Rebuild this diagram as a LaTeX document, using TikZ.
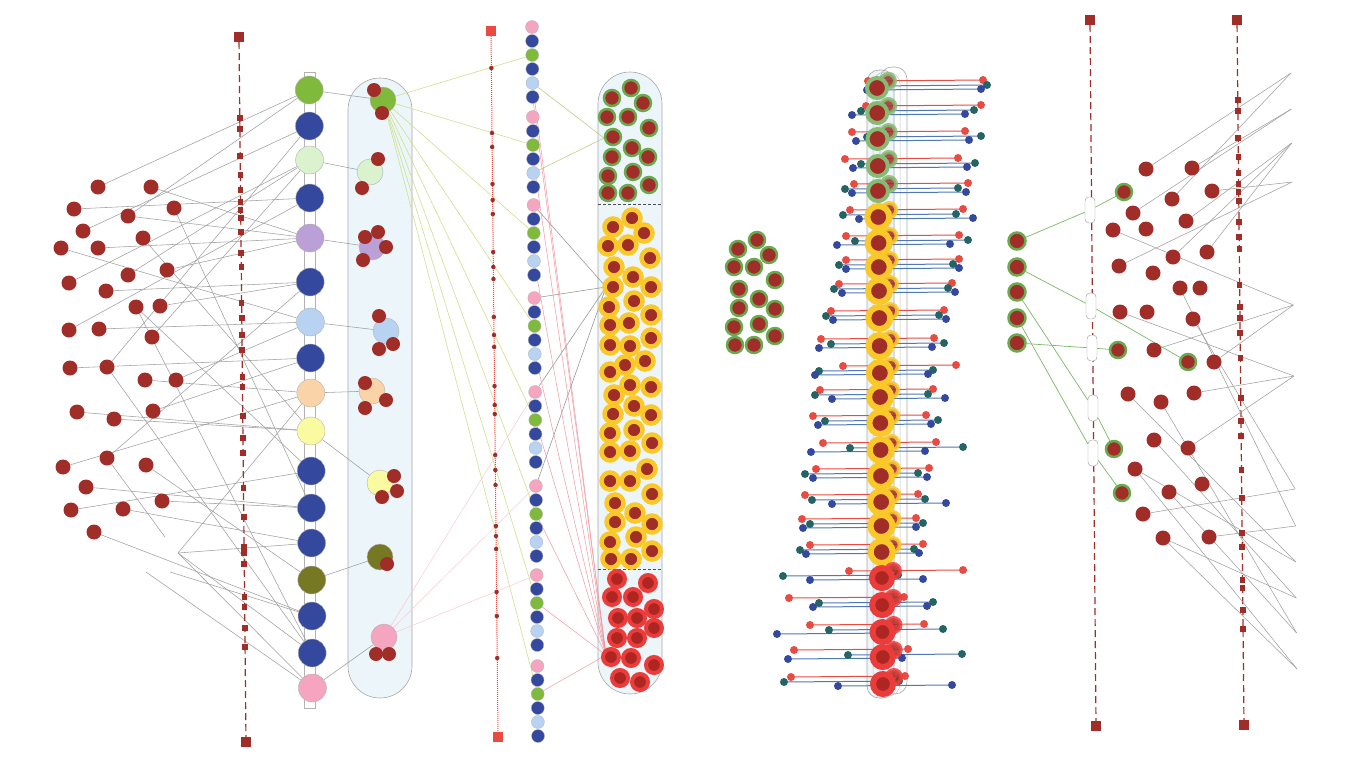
\documentclass[tikz,border=0pt]{standalone}
\usepackage{tikz}
\usepackage{xcolor}
\usetikzlibrary{backgrounds}
\definecolor{dred}{RGB}{160, 45, 40}
\definecolor{bred}{RGB}{232, 75, 65}
\definecolor{cblue}{RGB}{52, 72, 158}
\definecolor{cgreen}{RGB}{128, 186, 60}
\definecolor{lgreen}{RGB}{218, 242, 205}
\definecolor{lav}{RGB}{186, 160, 214}
\definecolor{lblue}{RGB}{184, 210, 242}
\definecolor{peach}{RGB}{250, 212, 168}
\definecolor{lyel}{RGB}{250, 250, 160}
\definecolor{colive}{RGB}{118, 120, 36}
\definecolor{cpink}{RGB}{245, 165, 192}
\definecolor{capfill}{RGB}{236, 245, 250}
\definecolor{gring}{RGB}{105, 170, 80}
\definecolor{yring}{RGB}{250, 200, 40}
\definecolor{rring}{RGB}{235, 60, 60}
\definecolor{cteal}{RGB}{36, 100, 100}
\definecolor{rowline}{RGB}{80, 120, 180}
\definecolor{ygreen}{RGB}{205, 225, 140}
\definecolor{lpink}{RGB}{240, 150, 160}
\definecolor{glink}{RGB}{120, 185, 100}

\tikzset{
  dot/.style={circle, inner sep=0pt, minimum size=15pt, fill=dred},
  bead/.style={circle, inner sep=0pt, minimum size=28pt, draw=gray!60, line width=0.4pt, fill=#1},
  cbead/.style={circle, inner sep=0pt, minimum size=26pt, draw=gray!60, line width=0.4pt, fill=#1},
  sbead/.style={circle, inner sep=0pt, minimum size=13pt, draw=gray!60, line width=0.3pt, fill=#1},
  sdot/.style={circle, inner sep=0pt, minimum size=14pt, fill=dred},
  gdot/.style={circle, inner sep=0pt, minimum size=16pt, fill=dred, draw=gring, line width=2.5pt},
  ydot/.style={circle, inner sep=0pt, minimum size=17pt, fill=dred, draw=yring, line width=4.5pt},
  rdot/.style={circle, inner sep=0pt, minimum size=16pt, fill=dred!85!red, draw=rring, line width=4pt},
  gbig/.style={circle, inner sep=0pt, minimum size=20pt, fill=dred, draw=gring!80, line width=4pt},
  ybig/.style={circle, inner sep=0pt, minimum size=22pt, fill=dred, draw=yring, line width=6pt},
  rbig/.style={circle, inner sep=0pt, minimum size=20pt, fill=dred!85!red, draw=rring, line width=6pt},
  tick/.style={rectangle, inner sep=0pt, minimum size=5.5pt, fill=dred},
  endsq/.style={rectangle, inner sep=0pt, minimum size=10pt, fill=dred},
  redsq/.style={rectangle, inner sep=0pt, minimum size=10pt, fill=bred},
  pdot/.style={circle, inner sep=0pt, minimum size=4.5pt, fill=dred},
  pill/.style={rectangle, rounded corners=4pt, draw=gray!80, fill=white, minimum width=10pt, minimum height=26pt, inner sep=0pt},
  enddot/.style={circle, inner sep=0pt, minimum size=8pt, fill=#1},
  link/.style={gray!75, line width=0.55pt},
}

\begin{document}
\begin{tikzpicture}[x=1pt, y=-1pt]
\useasboundingbox (0,0) rectangle (1357,761);

% first panel: loose dots, chain and capsule
\foreach \x/\y [count=\i] in {98/187, 151/187, 74/209, 174/208, 128/216, 83/231, 143/238, 61/248, 98/248,
  128/275, 167/270, 69/283, 106/291, 136/307, 160/306, 69/330, 99/329, 152/337, 70/368, 107/367,
  145/380, 176/380, 77/412, 114/419, 153/411, 63/467, 107/458, 146/465, 86/487, 71/510, 123/509,
  162/501, 94/532}
  \node[dot] (l\i) at (\x,\y) {};

\foreach \y/\c [count=\i] in {90/cgreen, 126/cblue, 160/lgreen, 198/cblue, 238/lav, 282/cblue,
  322/lblue, 358/cblue, 393/peach, 431/lyel, 471/cblue, 508/cblue, 543/cblue, 580/colive,
  616/cblue, 653/cblue, 688/cpink}
  \node[bead=\c] (c\i) at ({309+0.2*\i},\y) {};

\foreach \x/\y/\c [count=\i] in {383/100/cgreen, 370/172/lgreen, 372/247/lav, 386/331/lblue,
  372/391/peach, 380/483/lyel, 380/557/colive, 384/637/cpink}
  \node[cbead=\c] (q\i) at (\x,\y) {};

\foreach \x/\y [count=\i] in {374/90, 382/113, 378/159, 362/188, 365/237, 378/232, 386/247, 363/260,
  379/316, 379/349, 393/344, 365/383, 386/400, 365/408, 394/476, 397/491, 382/497, 387/564,
  376/654, 389/654}
  \node[sdot] (s\i) at (\x,\y) {};

\node[endsq] (da) at (239,37) {};
\node[endsq] (db) at (246,742) {};
\foreach \y [count=\i] in {118, 129, 156, 175, 190, 202, 210, 218, 232, 253, 267, 303, 318, 335, 350,
  377, 387, 416, 438, 453, 488, 517, 547, 553, 564, 597, 607, 628, 647}
  \node[tick] (d\i) at ({239+7*(\y-37)/705},\y) {};

\coordinate (fk) at (178,553);
\coordinate (f1) at (146,572);
\coordinate (f2) at (170,572);
\coordinate (f3) at (165,537);

% second panel: dotted line, bead column, tall capsule
\node[redsq] (ua) at (491,31) {};
\node[redsq] (ub) at (498,737) {};
\foreach \y [count=\i] in {68, 133, 147, 184, 200, 214, 252, 267, 279, 317, 335, 347, 386, 405, 414,
  455, 470, 485, 526, 536, 549, 592, 616, 658}
  \node[pdot] (u\i) at ({491+7*(\y-31)/706},\y) {};

\foreach \g/\y in {1/27, 2/117, 3/205, 4/298, 5/392, 6/486, 7/575, 8/666} {
  \foreach \j/\c/\d in {1/cpink/0, 2/cblue/14, 3/cgreen/28, 4/cblue/42, 5/lblue/56, 6/cblue/70} {
    \pgfmathsetmacro\yy{\y+\d}
    \node[sbead=\c] (k\g\j) at ({532+6*(\yy-27)/708},\yy) {};
  }
}

\foreach \x/\y [count=\i] in {631/88, 612/98, 643/103, 607/117, 628/117, 649/128, 613/137, 632/148,
  612/157, 648/157, 633/172, 608/176, 649/185, 608/193, 628/193}
  \node[gdot] (g\i) at (\x,\y) {};

\foreach \x/\y [count=\i] in {632/218, 613/227, 644/233, 608/246, 628/245, 650/258, 614/267, 633/277,
  651/287, 613/287, 609/307, 634/301, 651/315, 610/325, 629/323, 651/338, 610/345, 630/346,
  645/361, 625/365, 610/372, 630/385, 651/387, 614/395, 634/406, 613/414, 651/415, 610/433,
  634/430, 652/443, 610/452, 630/451, 647/469, 610/481, 630/481, 652/494, 615/503, 635/513,
  615/522, 652/524, 636/537, 610/542, 652/551, 611/559, 631/559}
  \node[ydot] (y\i) at (\x,\y) {};

\foreach \x/\y [count=\i] in {617/579, 648/583, 612/597, 633/597, 654/609, 618/618, 637/618, 654/628,
  617/638, 637/638, 611/657, 631/658, 654/665, 620/678, 640/682}
  \node[rdot] (r\i) at (\x,\y) {};

\coordinate (ga) at (604,138);
\coordinate (ya) at (606,287);
\coordinate (ra) at (606,655);

% third panel: dot cluster and stacked rows
\foreach \x/\y [count=\i] in {757/240, 738/249, 769/255, 734/267, 754/267, 775/280, 739/289, 759/299,
  775/309, 739/308, 734/327, 759/324, 775/336, 735/345, 754/345}
  \node[gdot] (h\i) at (\x,\y) {};

\begin{pgfonlayer}{background}
  \draw[gray!70, fill=capfill, line width=0.6pt, rounded corners=12pt] (867,70) rectangle (894,698);
  \draw[gray!70, line width=0.6pt, rounded corners=12pt] (880,67) rectangle (907,694);
  \draw[gray!50, line width=0.5pt, rounded corners=12pt] (873,72) rectangle (900,696);
\end{pgfonlayer}

\foreach \y/\rl/\rr/\tl/\bl/\tr/\br/\s [count=\i] in {
  88/868/983/872/867/987/981/gbig, 113/866/981/861/852/974/965/gbig, 139/852/965/867/856/981/969/gbig,
  166/845/958/861/853/975/967/gbig, 191/854/968/845/852/958/966/gbig, 217/850/963/843/859/956/973/ybig,
  243/846/959/855/837/968/950/ybig, 267/846/959/839/846/953/959/ybig, 291/839/952/834/842/948/955/ybig,
  318/831/944/826/833/939/946/ybig, 346/821/934/831/819/944/932/ybig, 373/843/956/819/815/933/928/ybig,
  397/820/933/815/832/928/945/ybig, 423/813/926/825/818/938/931/ybig, 450/823/936/850/811/963/925/ybig,
  476/816/929/805/813/918/927/ybig, 502/805/918/812/832/925/946/ybig, 526/802/916/810/803/923/916/ybig,
  552/810/923/800/806/914/919/ybig, 578/849/963/783/810/898/923/rbig, 605/789/904/819/813/933/927/rbig,
  632/810/924/829/777/943/892/rbig, 657/794/908/848/788/962/902/rbig, 684/791/905/784/838/899/952/rbig} {
  \node[enddot=bred] (rl\i) at ({\rl},{\y-7}) {};
  \node[enddot=bred] (rr\i) at ({\rr},{\y-8}) {};
  \node[enddot=cteal] (tl\i) at ({\tl},{\y-2}) {};
  \node[enddot=cteal] (tr\i) at ({\tr},{\y-3}) {};
  \node[enddot=cblue] (bl\i) at ({\bl},{\y+2}) {};
  \node[enddot=cblue] (br\i) at ({\br},{\y+1}) {};
  \node[\s, minimum size=14pt, line width=4pt, opacity=0.85] (bb\i) at ({888+6*(\y-88)/596},{\y-7}) {};
  \node[\s] (b\i) at ({877+6*(\y-88)/596},\y) {};
  \begin{pgfonlayer}{background}
    \draw[rowline, line width=1pt] (tl\i) -- (tr\i);
    \draw[rowline, line width=1pt] (bl\i) -- (br\i);
    \draw[bred, line width=1pt] (rl\i) -- (rr\i);
  \end{pgfonlayer}
}

% fourth panel: two dashed lines, pills and dots
\foreach \y [count=\i] in {241, 267, 292, 318, 343}
  \node[gdot, minimum size=17pt] (m\i) at (1017,\y) {};

\node[endsq] (ea) at (1090,20) {};
\node[endsq] (eb) at (1096,726) {};
\node[endsq] (ec) at (1237,20) {};
\node[endsq] (ed) at (1244,725) {};

\foreach \x/\y [count=\i] in {1090/210, 1091/306, 1092/348, 1093/408, 1093/453}
  \node[pill] (v\i) at (\x,\y) {};

\foreach \x/\y [count=\i] in {1124/192, 1188/362, 1118/350, 1114/449, 1122/493}
  \node[gdot] (n\i) at (\x,\y) {};

\foreach \y [count=\i] in {100, 111, 138, 157, 173, 184, 192, 201, 222, 237, 249, 285, 307, 318, 333,
  358, 398, 421, 436, 470, 498, 533, 547, 580, 588, 610, 629}
  \node[tick] (w\i) at ({1237+7*(\y-20)/705},\y) {};

\foreach \x/\y [count=\i] in {1146/169, 1192/168, 1172/199, 1212/191, 1133/213, 1186/221, 1146/229,
  1113/230, 1173/257, 1207/252, 1119/266, 1153/273, 1180/288, 1200/288, 1120/312, 1147/312,
  1193/319, 1154/350, 1214/362, 1128/394, 1161/402, 1194/393, 1154/440, 1188/448, 1135/469,
  1169/492, 1202/484, 1143/514, 1163/538, 1209/537}
  \node[dot] (p\i) at (\x,\y) {};

\foreach \y [count=\i] in {73, 109, 143, 182, 305, 376, 489, 526, 562, 598, 633, 669}
  \coordinate (a\i) at ({1291+6*(\y-73)/596},\y);

% connectors, kept under the dots
\begin{pgfonlayer}{background}
  \draw[gray!70, fill=capfill, line width=0.6pt, rounded corners=32pt] (348,78) rectangle (412,698);
  \draw[gray!70, fill=capfill, line width=0.6pt, rounded corners=32pt] (598,72) rectangle (662,694);
  \draw[densely dashed, black!70, line width=0.8pt] (598,204) -- (662,204);
  \draw[densely dashed, black!70, line width=0.8pt] (598,569) -- (662,569);
  \draw[gray!60, fill=white, line width=0.5pt] (304,72) rectangle (315,708);

  \foreach \a/\b in {1/1, 5/1, 6/2, 20/2, 12/3, 10/3, 18/3, 3/4, 16/4, 2/5, 5/5, 11/5, 9/5, 13/6, 15/6,
    27/6, 8/7, 17/7, 22/7, 19/8, 25/8, 21/9, 26/9, 23/10, 24/10, 7/10, 14/11, 30/11, 29/12, 32/12,
    31/13, 28/14, 33/15, 20/16, 4/12, 14/16}
    \draw[link] (l\a) -- (c\b);
  \foreach \b in {9, 13, 16, 17}
    \draw[link] (fk) -- (c\b);
  \draw[link] (f1) -- (c17);
  \draw[link] (f2) -- (c15);
  \draw[link] (l27) -- (f3);
  \foreach \a/\b in {1/1, 3/2, 5/3, 7/4, 9/5, 10/6, 14/7, 17/8}
    \draw[link] (c\a) -- (q\b);
  \draw[dred, line width=1.2pt, dash pattern=on 7pt off 4pt] (da) -- (db);

  \foreach \g in {1,...,8}
    \draw[ygreen, line width=0.6pt] (q1) -- (k\g3);
  \foreach \g in {5,6,7}
    \draw[lpink!50, line width=0.5pt] (q8) -- (k\g1);
  \draw[bred, densely dotted, line width=1pt] (ua) -- (ub);
  \draw[ygreen!80!gray, line width=0.6pt] (k15) -- (ga);
  \draw[ygreen!80!gray, line width=0.6pt] (k25) -- (ga);
  \foreach \g in {3,4,5,6}
    \draw[gray!80, line width=0.6pt] (k\g1) -- (ya);
  \foreach \n in {15, 16, 24, 35, 45, 53, 63, 73, 83}
    \draw[lpink, line width=0.5pt] (k\n) -- (ra);

  \draw[dred, line width=1.2pt, dash pattern=on 7pt off 4pt] (ea) -- (eb);
  \draw[dred, line width=1.2pt, dash pattern=on 7pt off 4pt] (ec) -- (ed);
  \foreach \a/\b/\c in {1/1/1, 2/2/2, 5/3/3, 3/4/4, 4/5/5} {
    \draw[glink, line width=0.7pt] (m\a) -- (v\b);
    \draw[glink, line width=0.7pt] (v\b) -- (n\c);
  }
  \foreach \a/\b in {1/1, 3/1, 5/2, 2/2, 6/3, 9/3, 10/3, 11/4, 4/4, 8/5, 18/5, 19/5, 15/6, 24/6,
    22/6, 17/7, 28/7, 13/8, 30/8, 20/9, 25/9, 23/10, 29/10, 26/11, 21/11, 29/12, 25/12}
    \draw[link] (p\a) -- (a\b);
\end{pgfonlayer}
\end{tikzpicture}
\end{document}
